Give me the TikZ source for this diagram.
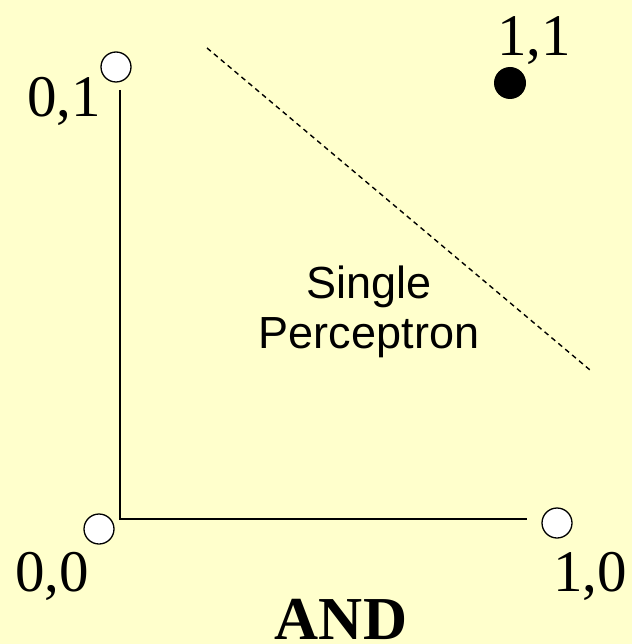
\documentclass[tikz,border=0pt]{standalone}
\usepackage{fontspec}
\setmainfont{Liberation Serif}
\newfontfamily\labelsans{Liberation Sans}
\usetikzlibrary{positioning}
\definecolor{paleYellow}{RGB}{255,255,204}

\begin{document}
\begin{tikzpicture}[x=1pt, y=-1pt,
    inputpt/.style={circle, draw, line width=1.3pt, fill=white, minimum size=30pt, inner sep=0pt},
    truept/.style={circle, fill=black, minimum size=32pt, inner sep=0pt},
    corner/.style={font=\fontsize{59}{59}\selectfont, inner sep=0pt},
    axis/.style={line width=1.5pt}
]
\fill[paleYellow] (0,0) rectangle (632,644);
\useasboundingbox (0,0) rectangle (632,644);

\node[inputpt] (p01) at (116,67) {};
\node[inputpt] (p00) at (99,529) {};
\node[inputpt] (p10) at (557,523) {};
\node[truept] (p11) at (510,83) {};

\node[corner, anchor=base east] (l01) at (101,117) {0,1};
\node[corner, anchor=base west] (l00) at (15,591) {0,0};
\node[corner, anchor=base west] (l10) at (553,591) {1,0};
\node[corner, anchor=base west] (l11) at (497,56) {1,1};

\coordinate (origin) at (120,519);
\coordinate (ytop) at (120,90);
\coordinate (xend) at (527,519);
\draw[axis] (ytop) -- (origin) -- (xend);

\coordinate (sepA) at (207,48);
\coordinate (sepB) at (590,370);
\draw[line width=1.4pt, dash pattern=on 5pt off 4pt] (sepA) -- (sepB);

\node[font=\labelsans\fontsize{45}{50}\selectfont, align=center, anchor=base] (region) at (369,348) {Single\\Perceptron};
\node[font=\fontsize{61}{61}\selectfont\bfseries, anchor=base, inner sep=0pt] (title) at (341,639) {AND};
\end{tikzpicture}
\end{document}
